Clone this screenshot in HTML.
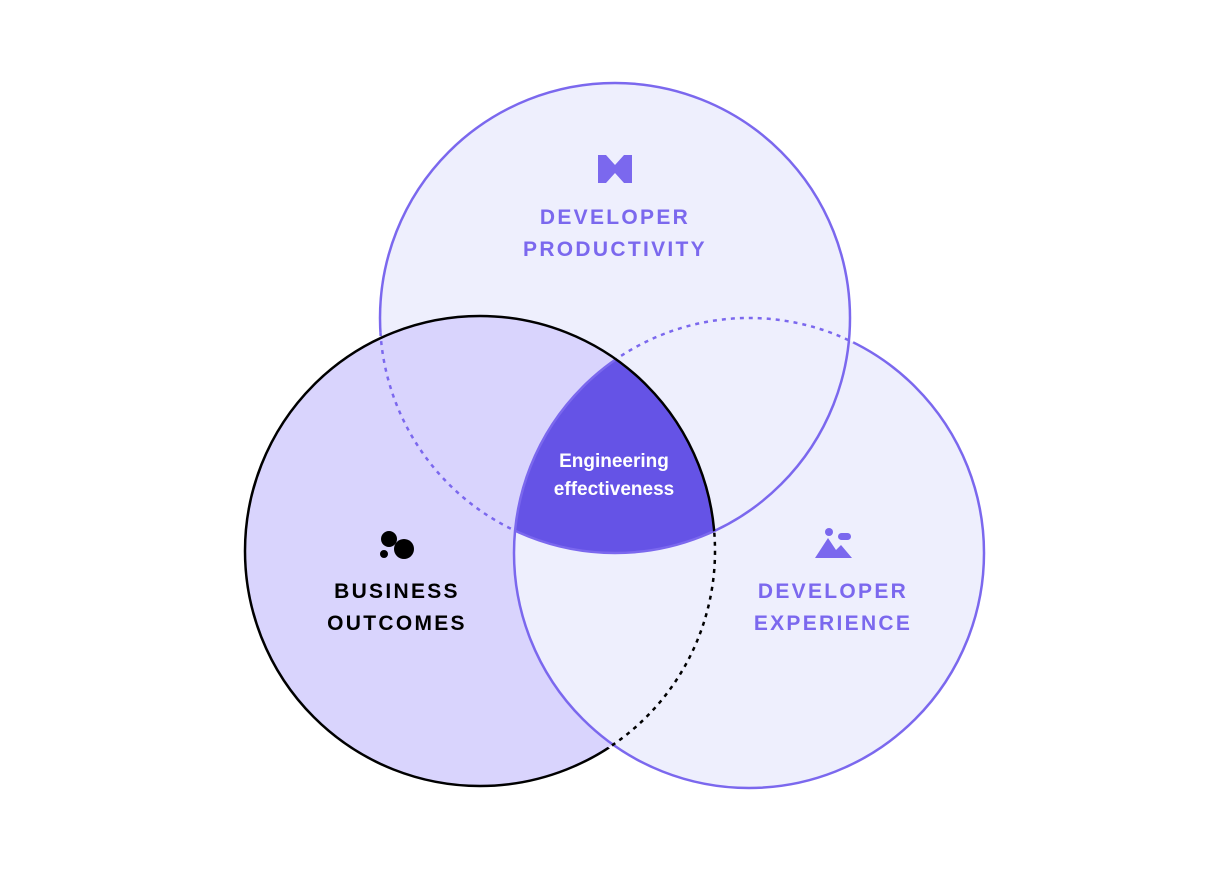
<!DOCTYPE html>
<html><head><meta charset="utf-8"><style>
html,body{margin:0;padding:0;background:#fff;}
svg{display:block;}
.t{font-family:"Liberation Sans",sans-serif;font-weight:bold;font-size:21px;letter-spacing:2.3px;text-anchor:middle;}
.w{font-family:"Liberation Sans",sans-serif;font-weight:bold;font-size:19px;fill:#fff;text-anchor:middle;}
</style></head><body>
<svg width="1229" height="872" viewBox="0 0 1229 872" xmlns="http://www.w3.org/2000/svg">
<defs>
<clipPath id="cT"><circle cx="615" cy="318" r="235"/></clipPath>
<clipPath id="cL"><circle cx="480" cy="551" r="235"/></clipPath>
<mask id="mLnR" maskUnits="userSpaceOnUse" x="0" y="0" width="1229" height="872"><rect width="1229" height="872" fill="#000"/><circle cx="480" cy="551" r="240" fill="#fff"/><circle cx="749" cy="553" r="235" fill="#000"/></mask>
<mask id="mLnRi" maskUnits="userSpaceOnUse" x="0" y="0" width="1229" height="872"><rect width="1229" height="872" fill="#fff"/><circle cx="480" cy="551" r="240" fill="#000"/><circle cx="749" cy="553" r="235" fill="#fff"/></mask>
<mask id="mTnL" maskUnits="userSpaceOnUse" x="0" y="0" width="1229" height="872"><rect width="1229" height="872" fill="#000"/><circle cx="615" cy="318" r="240" fill="#fff"/><circle cx="480" cy="551" r="235" fill="#000"/></mask>
<mask id="mTnLi" maskUnits="userSpaceOnUse" x="0" y="0" width="1229" height="872"><rect width="1229" height="872" fill="#fff"/><circle cx="615" cy="318" r="240" fill="#000"/><circle cx="480" cy="551" r="235" fill="#fff"/></mask>
<mask id="mRnT" maskUnits="userSpaceOnUse" x="0" y="0" width="1229" height="872"><rect width="1229" height="872" fill="#000"/><circle cx="749" cy="553" r="240" fill="#fff"/><circle cx="615" cy="318" r="235" fill="#000"/></mask>
<mask id="mRnTi" maskUnits="userSpaceOnUse" x="0" y="0" width="1229" height="872"><rect width="1229" height="872" fill="#fff"/><circle cx="749" cy="553" r="240" fill="#000"/><circle cx="615" cy="318" r="235" fill="#fff"/></mask>
</defs>
<circle cx="615" cy="318" r="235" fill="#eeeffd"/>
<circle cx="480" cy="551" r="235" fill="#d9d4fd"/>
<circle cx="749" cy="553" r="235" fill="#eeeffd"/>
<g clip-path="url(#cT)"><g clip-path="url(#cL)"><circle cx="749" cy="553" r="235" fill="#6553e6"/></g></g>
<circle cx="615" cy="318" r="235" fill="none" stroke="#7b68ee" stroke-width="2.5" mask="url(#mLnRi)"/>
<circle cx="615" cy="318" r="235" fill="none" stroke="#7b68ee" stroke-width="2.5" stroke-dasharray="4 5" mask="url(#mLnR)"/>
<circle cx="749" cy="553" r="235" fill="none" stroke="#7b68ee" stroke-width="2.5" mask="url(#mTnLi)"/>
<circle cx="749" cy="553" r="235" fill="none" stroke="#7b68ee" stroke-width="2.5" stroke-dasharray="4 5" mask="url(#mTnL)"/>
<circle cx="480" cy="551" r="235" fill="none" stroke="#000" stroke-width="2.5" mask="url(#mRnTi)"/>
<circle cx="480" cy="551" r="235" fill="none" stroke="#000" stroke-width="2.5" stroke-dasharray="4 5" mask="url(#mRnT)"/>
<g fill="#7b68ee">
<path d="M598 155 L606 155 L615 165 L624 155 L632 155 L632 183 L624 183 L615 173 L606 183 L598 183 Z"/>
</g>
<g fill="#000">
<circle cx="389" cy="539" r="8"/><circle cx="404" cy="549" r="10"/><circle cx="384" cy="554" r="4"/>
</g>
<g fill="#7b68ee">
<path d="M815 558 L828 538 L836 550 L841 545 L852 558 Z"/><circle cx="829" cy="532" r="4"/><rect x="838" y="533" width="13" height="7" rx="3.5"/>
</g>
<text class="t" x="615" y="224" fill="#7b68ee">DEVELOPER</text>
<text class="t" x="615" y="256" fill="#7b68ee">PRODUCTIVITY</text>
<text class="t" x="397" y="598" fill="#000">BUSINESS</text>
<text class="t" x="397" y="630" fill="#000">OUTCOMES</text>
<text class="t" x="833" y="598" fill="#7b68ee">DEVELOPER</text>
<text class="t" x="833" y="630" fill="#7b68ee">EXPERIENCE</text>
<text class="w" x="614" y="467">Engineering</text>
<text class="w" x="614" y="495">effectiveness</text>
</svg>
</body></html>
